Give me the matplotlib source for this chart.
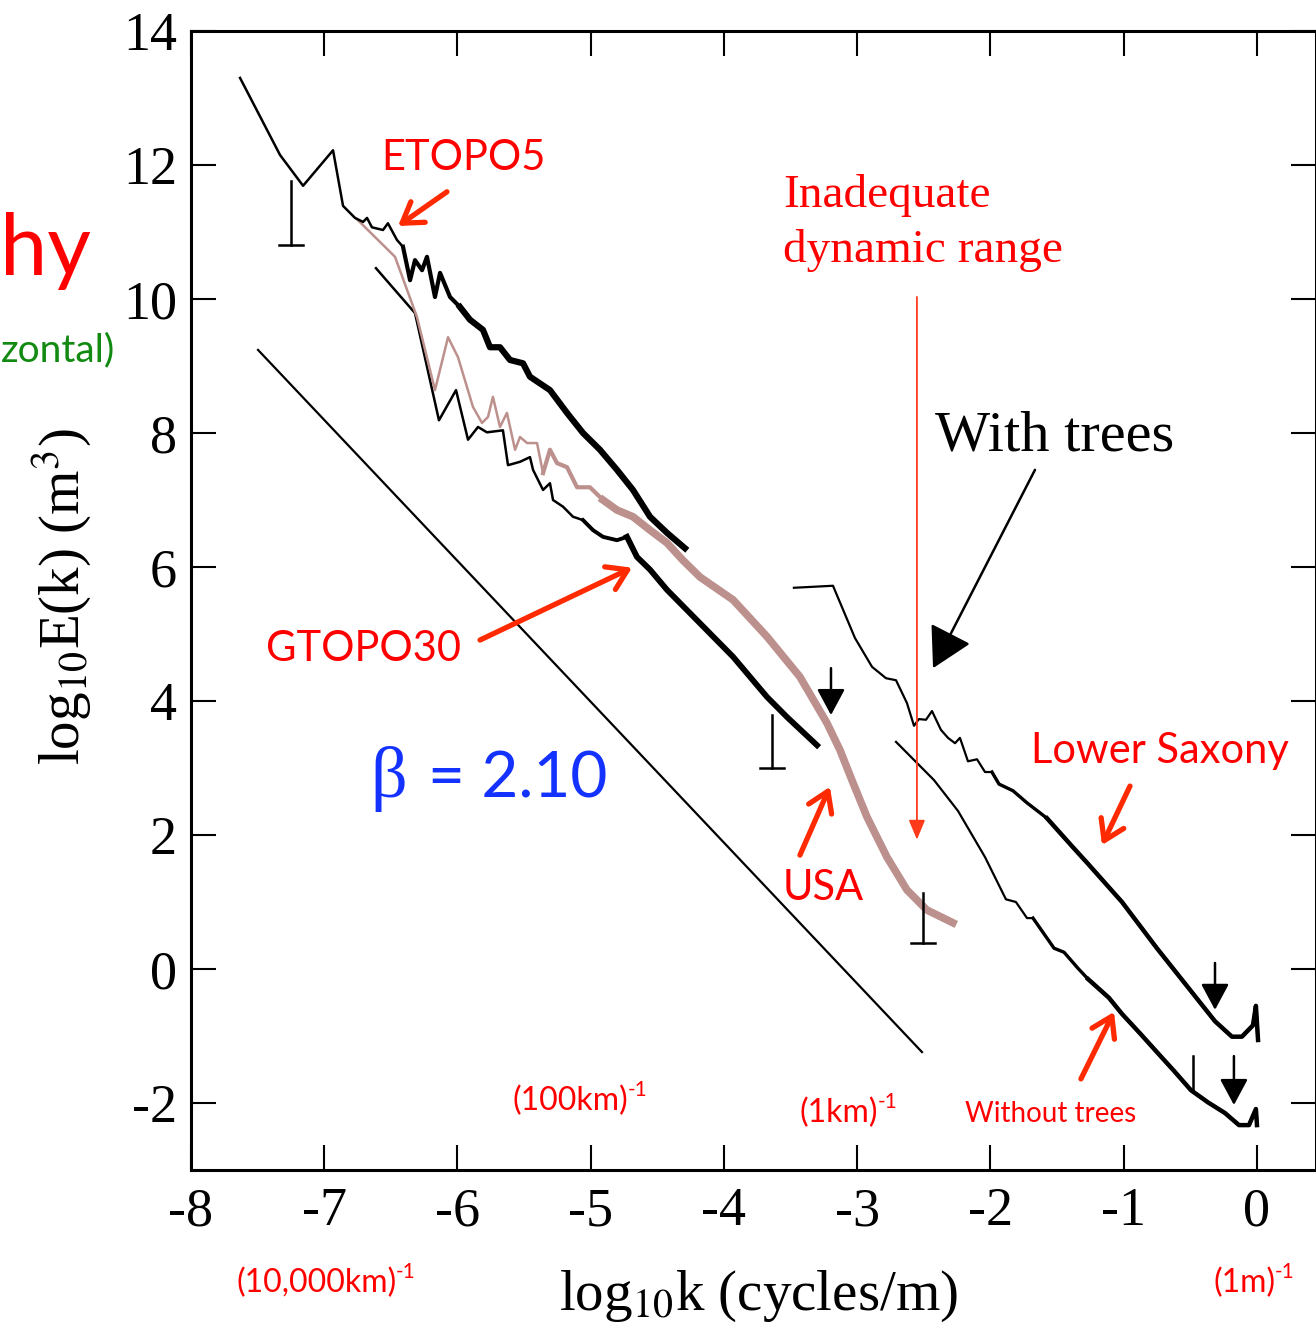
import numpy as np
import matplotlib as mpl
mpl.use('Agg')
import matplotlib.pyplot as plt

plt.rcParams['font.family'] = ['Liberation Serif', 'DejaVu Serif']
plt.rcParams['axes.unicode_minus'] = False

SANS = ['Lato', 'DejaVu Sans']
RED = '#ff0000'
ARROW_RED = '#ff2a00'
BROWN = '#bc908c'
BLUE = '#1432ff'
GREEN = '#128a12'

# ETOPO5 spectrum (black)
etopo5_k = [-7.632, -7.332, -7.159, -6.934, -6.859, -6.769, -6.709, -6.679, -6.642,
            -6.559, -6.522, -6.484, -6.454, -6.409, -6.356, -6.319, -6.266, -6.229,
            -6.169, -6.131, -6.056, -5.981, -5.906, -5.809, -5.756, -5.681, -5.606,
            -5.508, -5.456, -5.306, -5.178, -5.058, -4.931, -4.803, -4.683, -4.555,
            -4.428, -4.293]
etopo5_E = [13.30, 12.15, 11.69, 12.22, 11.39, 11.21, 11.15, 11.21, 11.07,
            11.03, 11.13, 10.99, 10.88, 10.78, 10.28, 10.58, 10.43, 10.63,
            10.03, 10.39, 10.03, 9.88, 9.69, 9.54, 9.28, 9.28, 9.09,
            9.04, 8.84, 8.64, 8.30, 8.00, 7.75, 7.45, 7.15, 6.75,
            6.51, 6.28]

# ETOPO5 / GTOPO30 / USA spectrum (brown)
usa_k = [-6.754, -6.469, -6.304, -6.169, -6.071, -5.996, -5.884, -5.816, -5.771,
         -5.734, -5.681, -5.629, -5.568, -5.531, -5.478, -5.403, -5.358, -5.306,
         -5.253, -5.178, -5.103, -5.006, -4.908, -4.803, -4.683, -4.555, -4.428,
         -4.308, -4.180, -3.932, -3.677, -3.430, -3.227, -3.130, -3.032, -2.927,
         -2.777, -2.627, -2.477, -2.282]
usa_E = [11.19, 10.63, 9.73, 8.64, 9.43, 9.13, 8.39, 8.15, 8.24,
         8.54, 8.09, 8.30, 7.75, 7.94, 7.85, 7.85, 7.40, 7.75,
         7.55, 7.49, 7.19, 7.19, 7.00, 6.85, 6.75, 6.55, 6.36,
         6.10, 5.85, 5.51, 4.96, 4.36, 3.67, 3.27, 2.78, 2.27,
         1.67, 1.18, 0.88, 0.69]

# GTOPO30 spectrum (black)
gtopo30_k = [-6.612, -6.319, -6.139, -6.011, -5.921, -5.846, -5.779, -5.659, -5.621,
             -5.531, -5.456, -5.433, -5.358, -5.306, -5.283, -5.208, -5.133, -5.058,
             -4.983, -4.908, -4.803, -4.728, -4.653, -4.555, -4.428, -4.180, -3.932,
             -3.677, -3.527, -3.302]
gtopo30_E = [10.46, 9.79, 8.19, 8.64, 7.90, 8.09, 8.01, 8.04, 7.52,
             7.57, 7.64, 7.45, 7.15, 7.25, 7.00, 6.90, 6.75, 6.70,
             6.55, 6.45, 6.40, 6.45, 6.15, 5.96, 5.66, 5.16, 4.66,
             4.06, 3.76, 3.34]

# Lower Saxony, with trees
trees_k = [-3.475, -3.182, -3.017, -2.889, -2.784, -2.709, -2.627, -2.574, -2.537,
           -2.484, -2.439, -2.372, -2.319, -2.266, -2.229, -2.169, -2.101, -2.041,
           -1.989, -1.936, -1.831, -1.726, -1.576, -1.396, -1.268, -1.013, -0.751,
           -0.495, -0.315, -0.188, -0.113, -0.030, -0.008, 0.008]
trees_E = [5.69, 5.72, 4.94, 4.51, 4.34, 4.31, 3.97, 3.63, 3.73,
           3.72, 3.85, 3.57, 3.45, 3.37, 3.45, 3.10, 3.13, 2.94,
           2.94, 2.76, 2.66, 2.48, 2.25, 1.85, 1.57, 1.00, 0.31,
           -0.33, -0.78, -1.01, -1.01, -0.84, -0.55, -1.06]

# Lower Saxony, without trees
notrees_k = [-2.709, -2.424, -2.244, -2.041, -1.884, -1.809, -1.726, -1.681, -1.523,
             -1.448, -1.343, -1.268, -1.111, -1.013, -0.878, -0.751, -0.623, -0.495,
             -0.368, -0.240, -0.135, -0.060, -0.008, 0.000]
notrees_E = [3.39, 2.82, 2.36, 1.67, 1.04, 1.00, 0.76, 0.76, 0.31,
             0.25, 0.01, -0.15, -0.43, -0.67, -0.96, -1.24, -1.52, -1.81,
             -1.99, -2.15, -2.33, -2.33, -2.09, -2.33]

# reference line, beta = 2.10
ref_k = [-7.497, -2.514]
ref_E = [9.24, -1.24]

# resolution limits (k, top, bottom)
res_k = [-7.25, -3.64, -2.51]
res_top = [11.76, 3.79, 1.13]
res_bot = [10.81, 3.00, 0.39]

# scale-break arrows (k, top, bottom)
brk_k = [-3.197, -0.315, -0.173]
brk_top = [4.49, 0.09, -1.30]
brk_bot = [3.79, -0.61, -2.03]

# wavelength labels
wl_k = [-5.584, -3.430, -7.662, -0.330]
wl_E = [-2.104, -2.284, -4.821, -4.821]
wl_text = ['(100km)', '(1km)', '(10,000km)', '(1m)']

fig = plt.figure(figsize=(13.16, 13.35), dpi=100)
ax = fig.add_axes([191 / 1316, 165 / 1335, 1 - 191 / 1316, 1139 / 1335])
ax.set_xlim(-8, 0.443)
ax.set_ylim(-3, 14)
ax.set_xticks(range(-8, 1))
ax.set_yticks(range(-2, 15, 2))
ax.tick_params(direction='in', length=18, width=1.5, top=True, right=True,
               labelsize=39)
ax.tick_params(axis='x', pad=12)
ax.tick_params(axis='y', pad=10)
for s in ax.spines.values():
    s.set_linewidth(2.2)


def spectrum(k, E, color, widths):
    # widths: list of (k_from, linewidth), thicker where the spectrum gets noisy
    k = np.array(k)
    E = np.array(E)
    for k_from, lw in widths:
        m = k >= k_from
        ax.plot(k[m], E[m], color=color, lw=lw)


spectrum(gtopo30_k, gtopo30_E, 'k', [(-9, 1.8), (-5.1, 2.8), (-4.75, 4.2)])
spectrum(usa_k, usa_E, BROWN, [(-9, 1.8), (-5.4, 3.0), (-4.95, 5.5)])
spectrum(etopo5_k, etopo5_E, 'k', [(-9, 1.8), (-6.45, 3.0), (-6.0, 4.5)])
spectrum(trees_k, trees_E, 'k', [(-9, 1.6), (-2.0, 2.4), (-1.6, 3.2)])
spectrum(notrees_k, notrees_E, 'k', [(-9, 1.6), (-1.7, 2.4), (-1.3, 3.2)])
ax.plot(ref_k, ref_E, color='k', lw=1.6)

for k, top, bot in zip(res_k, res_top, res_bot):
    ax.plot([k, k], [top, bot], color='k', lw=1.8)
    ax.plot([k - 0.09, k + 0.09], [bot, bot], color='k', lw=1.8)
ax.plot([-0.48, -0.48], [-1.30, -1.82], color='k', lw=1.8)

for k, top, bot in zip(brk_k, brk_top, brk_bot):
    ax.annotate('', xy=(k, bot), xytext=(k, top),
                arrowprops=dict(arrowstyle='-|>,head_length=0.8,head_width=0.43',
                                color='k', lw=1.8, mutation_scale=20,
                                shrinkA=0, shrinkB=0))

ax.annotate('', xy=(-2.431, 4.49), xytext=(-1.666, 7.45),
            arrowprops=dict(arrowstyle='-|>,head_length=1.25,head_width=0.7',
                            color='k', lw=1.8, mutation_scale=20,
                            shrinkA=0, shrinkB=0))

ax.annotate('', xy=(-2.552, 1.93), xytext=(-2.552, 10.03),
            arrowprops=dict(arrowstyle='-|>,head_length=0.6,head_width=0.25',
                            color='#ff3a1a', lw=1.3, mutation_scale=20,
                            shrinkA=0, shrinkB=0))


def red_arrow(start, end):
    ax.annotate('', xy=end, xytext=start,
                arrowprops=dict(arrowstyle='->,head_length=0.7,head_width=0.45',
                                color=ARROW_RED, lw=3.8, mutation_scale=20,
                                shrinkA=0, shrinkB=0))


red_arrow((-6.079, 11.60), (-6.446, 11.09))
red_arrow((-5.831, 4.91), (-4.690, 5.99))
red_arrow((-3.430, 1.70), (-3.205, 2.72))
red_arrow((-0.953, 2.73), (-1.163, 1.85))
red_arrow((-1.321, -1.64), (-1.073, -0.64))

ax.text(-5.959, 11.925, 'ETOPO5', color=RED, family=SANS, fontsize=30,
        ha='center', va='baseline')
ax.text(-6.709, 4.597, 'GTOPO30', color=RED, family=SANS, fontsize=30,
        ha='center', va='baseline')
ax.text(-3.257, 1.03, 'USA', color=RED, family=SANS, fontsize=30,
        ha='center', va='baseline')
ax.text(-0.728, 3.075, 'Lower Saxony', color=RED, family=SANS, fontsize=30,
        ha='center', va='baseline')
ax.text(-1.546, -2.284, 'Without trees', color=RED, family=SANS, fontsize=20,
        ha='center', va='baseline')
ax.text(-3.557, 11.37, 'Inadequate', color=RED, fontsize=34, va='baseline')
ax.text(-3.557, 10.55, 'dynamic range', color=RED, fontsize=34, va='baseline')
ax.text(-2.416, 7.746, 'With trees', color='k', fontsize=42, va='baseline')
ax.text(-6.657, 2.567, '\u03b2', color=BLUE, fontsize=52, va='baseline')
ax.text(-6.221, 2.567, '= 2.10', color=BLUE, family=SANS, fontsize=46,
        va='baseline')

for x, y, s in zip(wl_k, wl_E, wl_text):
    t = ax.text(x, y, s, color=RED, family=SANS, fontsize=23,
                va='baseline', clip_on=False)
    ax.annotate('-1', xy=(0.995, 0.52), xycoords=t, color=RED, family=SANS,
                fontsize=15, ha='left', va='bottom', annotation_clip=False)

fig.text(758 / 1316, 25 / 1335, 'log$_{10}$k (cycles/m)', fontsize=41,
         math_fontfamily='stix', ha='center', va='baseline')
fig.text(62 / 1316, 1 - 597 / 1335, 'log$_{10}$E(k) (m$^{3}$)', fontsize=41,
         math_fontfamily='stix', rotation=90, ha='center', va='center')

fig.text(0, 1 - 275 / 1335, 'hy', color=RED, family=SANS,
         fontsize=61, ha='left', va='baseline')
fig.text(1 / 1316, 1 - 361 / 1335, 'zontal)', color=GREEN, family=SANS,
         fontsize=28, ha='left', va='baseline')

fig.savefig('out.png', dpi=100)
